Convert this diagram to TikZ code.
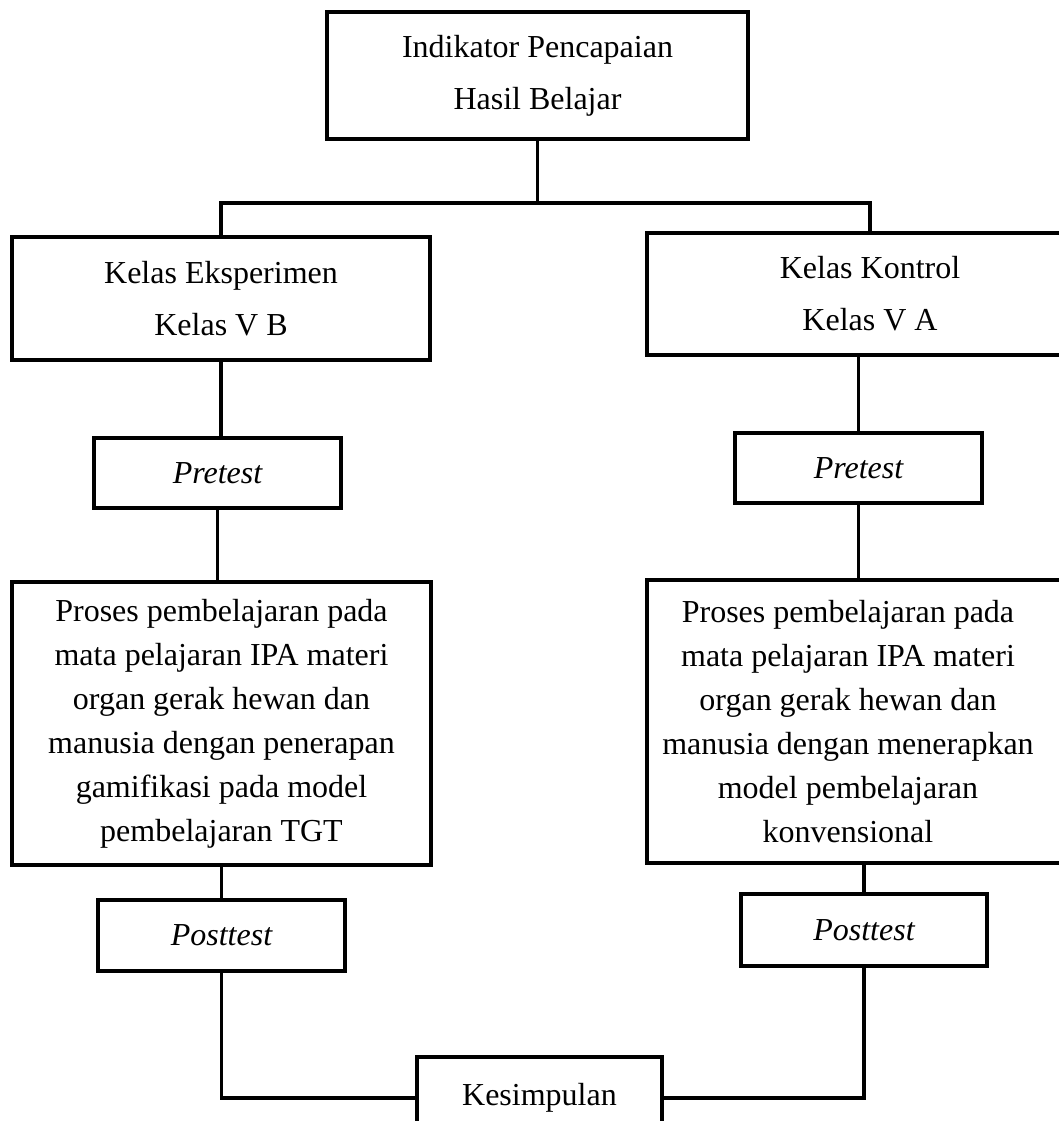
\documentclass[tikz,border=0pt]{standalone}
\usepackage{fontspec}
\setmainfont{Liberation Serif}

\begin{document}
\begin{tikzpicture}[x=0.75pt,y=-0.75pt,
  box/.style={draw, line width=3pt, align=center, inner sep=0pt},
  conn/.style={line width=2.5pt},
  big/.style={font=\fontsize{24}{39}\selectfont},
  body/.style={font=\fontsize{24}{33}\selectfont},
  test/.style={font=\fontsize{24}{29}\selectfont\itshape}]
  \clip (0,0) rectangle (1059,1121);

  % Indikator
  \node[box, big, minimum width=315.75pt, minimum height=95.25pt] (ind) at (537.5,75.5)
    {Indikator Pencapaian\\Hasil Belajar};

  % Kelas
  \node[box, big, minimum width=313.5pt, minimum height=92.25pt] (kelasE) at (221,298.5)
    {Kelas Eksperimen\\Kelas V B};
  \node[box, big, minimum width=334.5pt, minimum height=91.5pt] (kelasK) at (870,294)
    {Kelas Kontrol\\Kelas V A};

  % Pretest
  \node[box, test, minimum width=185.25pt, minimum height=52.5pt] (preE) at (217.5,473) {Pretest};
  \node[box, test, minimum width=185.25pt, minimum height=52.5pt] (preK) at (858.5,468) {Pretest};

  % Proses
  \node[box, body, minimum width=314.25pt, minimum height=212.25pt] (prosE) at (221.5,723.5)
    {Proses pembelajaran pada\\mata pelajaran IPA materi\\organ gerak hewan dan\\manusia dengan penerapan\\gamifikasi pada model\\pembelajaran TGT};
  \node[box, minimum width=334.5pt, minimum height=212.25pt] (prosK) at (870,721.5) {};
  \node[body, align=center, inner sep=0pt] (prosKtxt) at (848,721.5)
    {Proses pembelajaran pada\\mata pelajaran IPA materi\\organ gerak hewan dan\\manusia dengan menerapkan\\model pembelajaran\\konvensional};

  % Posttest
  \node[box, test, minimum width=185.25pt, minimum height=53.25pt] (postE) at (221.5,935.5) {Posttest};
  \node[box, test, minimum width=184.5pt, minimum height=54pt] (postK) at (864,930) {Posttest};

  % Kesimpulan
  \node[box, big, minimum width=183.75pt, minimum height=61.5pt] (kes) at (539.5,1098) {Kesimpulan};

  % Connectors
  \coordinate (split) at (539,203);
  \draw[conn] (ind.south) -- (ind.south |- split);
  \draw[conn] (kelasE.north) |- (split) -| (kelasK.north);
  \draw[conn] (kelasE.south) -- (kelasE.south |- preE.north);
  \draw[conn] (preE.south) -- (preE.south |- prosE.north);
  \draw[conn] (postE.north) -- (postE.north |- prosE.south);
  \draw[conn] (postE.south) |- (kes.west);
  \draw[conn] (preK.north) -- (preK.north |- kelasK.south);
  \draw[conn] (preK.south) -- (preK.south |- prosK.north);
  \draw[conn] (postK.north) -- (postK.north |- prosK.south);
  \draw[conn] (postK.south) |- (kes.east);
\end{tikzpicture}
\end{document}
